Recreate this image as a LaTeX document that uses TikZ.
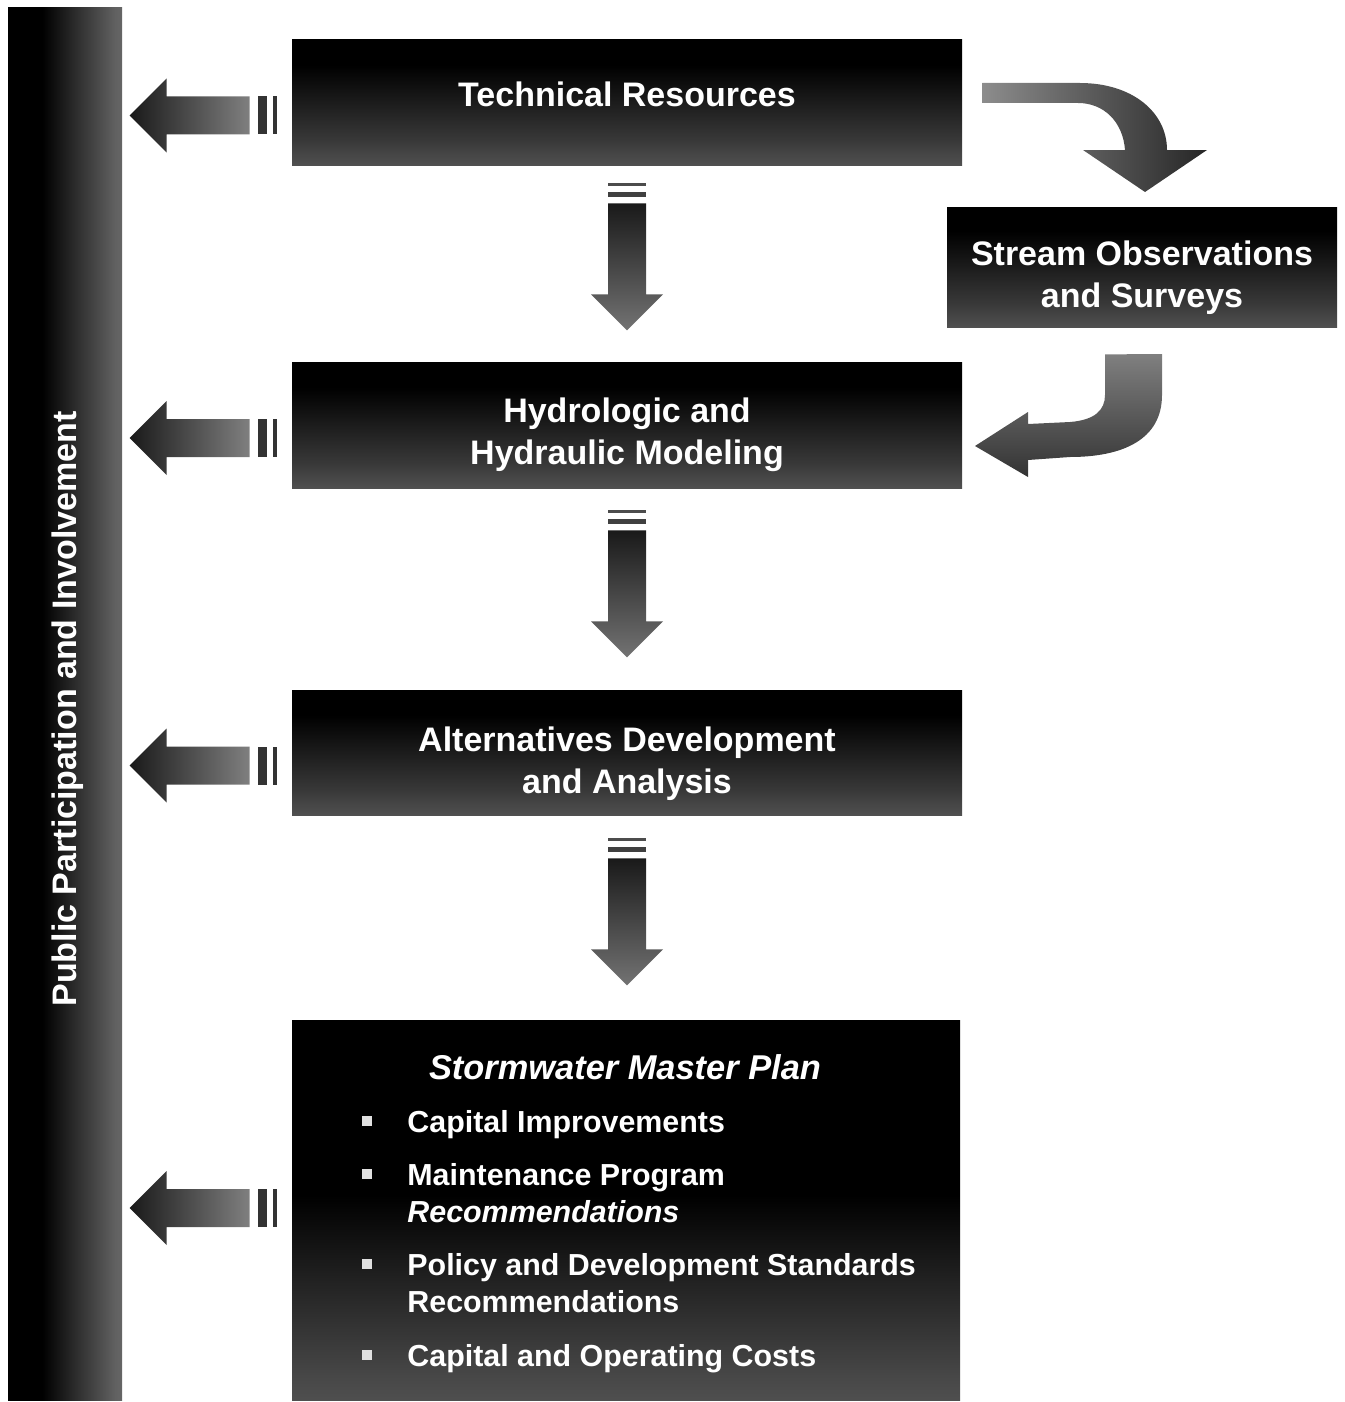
\documentclass[tikz,border=0pt]{standalone}
\usepackage{fontspec}
\setmainfont{Liberation Sans}
\usetikzlibrary{calc}
\pgfdeclareverticalshading{boxsh}{100bp}{color(0bp)=(black!45); color(35bp)=(black!78); color(65bp)=(black); color(100bp)=(black)}
\pgfdeclareverticalshading{plansh}{100bp}{color(0bp)=(black!45); color(28bp)=(black!72); color(52bp)=(black); color(100bp)=(black)}
\pgfdeclarehorizontalshading{barsh}{100bp}{color(0bp)=(black); color(40bp)=(black); color(72bp)=(black!62); color(100bp)=(black!45)}
\begin{document}
\begin{tikzpicture}[x=0.5pt,y=-0.5pt,
  box/.style={shading=boxsh, inner sep=0pt},
  boxtxt/.style={text=white, align=center, inner sep=0pt,
    font=\bfseries\fontsize{17}{21}\selectfont},
  itemtxt/.style={text=white, inner sep=0pt, anchor=base west,
    font=\bfseries\fontsize{15.2}{19}\selectfont},
  bul/.style={fill=black!12, minimum size=5pt, inner sep=0pt},
  leftarr/.pic={
    \shade[left color=black!90, right color=black!50]
      (0,0) -- (37,-37) -- (37,-19) -- (120,-19) -- (120,19) -- (37,19) -- (37,37) -- cycle;
    \fill[black!80] (128,-19) rectangle (137,19);
    \fill[black!80] (143,-19) rectangle (147,19);
  },
  downarr/.pic={
    \fill[black!70] (-19,0) rectangle (19,3);
    \fill[black!75] (-19,9) rectangle (19,14);
    \shade[top color=black!90, bottom color=black!55]
      (-19,20) -- (19,20) -- (19,111) -- (36,111) -- (0,147) -- (-36,111) -- (-19,111) -- cycle;
  }]
\useasboundingbox (0,0) rectangle (1344,1402);

% side bar
\node[shading=barsh, minimum width=57pt, minimum height=696pt, inner sep=0pt] (bar) at (65,704) {};
\node[rotate=90, text=white, font=\bfseries\fontsize{17}{20}\selectfont, inner sep=0pt] (barlabel) at (68,709) {Public Participation and Involvement};

% boxes
\node[box, minimum width=335pt, minimum height=62.5pt] (tr) at (627,102.5) {};
\node[boxtxt] (trt) at ($(tr.center)+(0,-8)$) {Technical Resources};
\node[box, minimum width=195pt, minimum height=60pt] (so) at (1142,267) {};
\node[boxtxt] (sot) at ($(so.center)+(0,10.5)$) {Stream Observations\\and Surveys};
\node[box, minimum width=335pt, minimum height=63pt] (hh) at (627,425) {};
\node[boxtxt] (hht) at ($(hh.center)+(0,10)$) {Hydrologic and\\Hydraulic Modeling};
\node[box, minimum width=335pt, minimum height=62.5pt] (ad) at (627,752.5) {};
\node[boxtxt] (adt) at ($(ad.center)+(0,11)$) {Alternatives Development\\and Analysis};
\node[shading=plansh, minimum width=334pt, minimum height=190pt, inner sep=0pt] (sp) at (626,1210) {};

% plan contents
\node[text=white, inner sep=0pt, font=\bfseries\itshape\fontsize{17.2}{20}\selectfont] (sptitle) at (625,1067) {Stormwater Master Plan};
\node[bul] (b1) at (367,1121) {};
\node[itemtxt] (i1) at (407,1132) {Capital Improvements};
\node[bul] (b2) at (367,1174) {};
\node[itemtxt] (i2) at (407,1185) {Maintenance Program};
\node[itemtxt, font=\bfseries\itshape\fontsize{15.2}{19}\selectfont] (i2b) at (407,1222) {Recommendations};
\node[bul] (b3) at (367,1264) {};
\node[itemtxt] (i3) at (407,1275) {Policy and Development Standards};
\node[itemtxt] (i3b) at (407,1312) {Recommendations};
\node[bul] (b4) at (367,1355) {};
\node[itemtxt] (i4) at (407,1366) {Capital and Operating Costs};

% left arrows
\pic at ($(tr.west)+(-162,13)$) {leftarr};
\pic at ($(hh.west)+(-162,13)$) {leftarr};
\pic at ($(ad.west)+(-162,13)$) {leftarr};
\pic at ($(sp.west)+(-162,-2)$) {leftarr};

% down arrows
\pic at ($(tr.south)+(0,18)$) {downarr};
\pic at ($(hh.south)+(0,22)$) {downarr};
\pic at ($(ad.south)+(0,23)$) {downarr};

% curved arrow to stream observations
\coordinate (c1s) at ($(tr.east)+(20,-19.5)$);
\shade[left color=black!45, right color=black!85]
  (c1s) -- (1080,83) .. controls (1132,83) and (1167,112) .. (1167,150)
  -- (1207,150) -- (1145,192) -- (1083,150) -- (1125,150)
  .. controls (1123,122) and (1104,103) .. (1078,103) -- (982,103) -- cycle;

% curved arrow back to modeling
\coordinate (c2s) at ($(so.south)+(-37,27)$);
\shade[top color=black!50, bottom color=black!80]
  (c2s) -- (1162,354) -- (1162,395) .. controls (1162,440) and (1122,457) .. (1070,457)
  -- (1028,460) -- (1028,477) -- (975,446) -- (1028,412) -- (1028,424)
  -- (1070,422) .. controls (1095,420) and (1105,410) .. (1105,395) -- cycle;
\end{tikzpicture}
\end{document}
